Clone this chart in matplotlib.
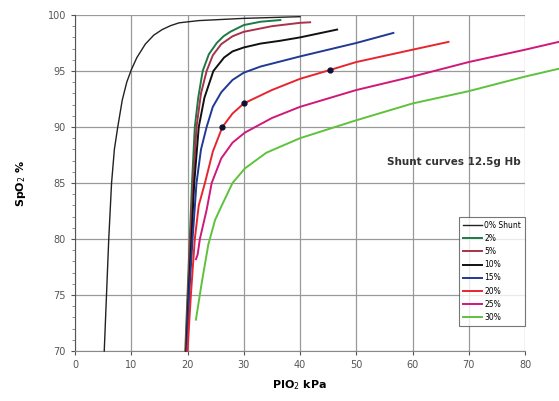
import matplotlib.pyplot as plt
from matplotlib.ticker import MultipleLocator

# Datos (PIO2 en kPa, SpO2 en %)
x_0 = [5.2, 5.6, 6.0, 6.5, 7.0, 7.6, 8.4, 9.2, 10.0, 11.0, 12.5, 14.0, 15.5, 17.0, 18.5, 22, 26, 30, 40]
y_0 = [70, 75, 80, 85, 88, 90, 92.4, 94.0, 95.1, 96.2, 97.4, 98.2, 98.7, 99.05, 99.3, 99.5, 99.6, 99.7, 99.85]

x_2 = [19.6, 20.0, 20.4, 20.8, 21.3, 21.9, 22.7, 23.8, 25.2, 26.4, 27.6, 30.0, 33.0, 36.5]
y_2 = [70, 75, 80, 85, 90, 92.6, 95, 96.5, 97.5, 98.1, 98.5, 99.1, 99.4, 99.55]

x_5 = [19.7, 20.1, 20.5, 21.0, 21.6, 22.4, 23.4, 24.5, 26.0, 28.0, 30.0, 35.0, 40.0, 41.8]
y_5 = [70, 75, 80, 85, 90, 93, 95, 96.4, 97.4, 98.1, 98.5, 99.0, 99.3, 99.35]

x_10 = [19.8, 20.2, 20.7, 21.2, 22.0, 23.0, 24.6, 26.5, 28.0, 30.0, 33.0, 36.5, 40.0, 46.6]
y_10 = [70, 75, 80, 85, 90, 92.6, 95, 96.2, 96.75, 97.1, 97.45, 97.7, 98.0, 98.7]

x_15 = [19.9, 20.3, 20.9, 21.6, 22.4, 23.4, 24.5, 26.0, 28.0, 30.0, 33.0, 36.5, 40.0, 50.0, 56.6]
y_15 = [70, 75, 80, 85, 88, 90, 91.8, 93.1, 94.2, 94.85, 95.4, 95.85, 96.3, 97.5, 98.4]

x_20 = [20.0, 20.6, 21.3, 22.0, 23.1, 24.5, 26.2, 28.0, 30.0, 35.0, 40.0, 45.4, 50.0, 60.0, 66.4]
y_20 = [70, 75, 80, 83, 85, 87.8, 90, 91.2, 92.1, 93.3, 94.3, 95.1, 95.8, 96.9, 97.6]

x_25 = [21.5, 21.8, 22.2, 23.4, 24.3, 26.0, 28.0, 30.2, 35.0, 40.0, 50.0, 60.0, 70.0, 80.0, 86.0]
y_25 = [78.2, 78.6, 80, 82.6, 85, 87.2, 88.6, 89.5, 90.8, 91.8, 93.3, 94.5, 95.8, 96.9, 97.6]

x_30 = [21.5, 22.5, 23.7, 24.9, 26.1, 28.0, 30.2, 34.0, 40.0, 50.0, 60.0, 70.0, 80.0, 86.0]
y_30 = [72.8, 76, 79.5, 81.7, 83, 85, 86.3, 87.7, 89.0, 90.6, 92.1, 93.2, 94.5, 95.2]

etiquetas = ['0% Shunt', '2%', '5%', '10%', '15%', '20%', '25%', '30%']
colores = ['#222222', '#1d7a45', '#a8324a', '#111111', '#1f3a94', '#e8252e', '#d0187a', '#5ec23c']

# puntos marcados sobre la curva del 20%
puntos_x = [26.2, 30.0, 45.4]
puntos_y = [90.0, 92.1, 95.1]

fig = plt.figure(figsize=(5.59, 4.01), dpi=100)
ax = fig.add_axes([75 / 559, 1 - 351 / 401, 450 / 559, 336 / 401])

curvas = [(x_0, y_0), (x_2, y_2), (x_5, y_5), (x_10, y_10),
          (x_15, y_15), (x_20, y_20), (x_25, y_25), (x_30, y_30)]
for (xs, ys), etiqueta, color in zip(curvas, etiquetas, colores):
    ancho = 1.0 if etiqueta == '0% Shunt' else 1.4
    ax.plot(xs, ys, color=color, lw=ancho, label=etiqueta, clip_on=False,
            zorder=3, solid_joinstyle='round')

ax.plot(puntos_x, puntos_y, 'o', color='#111133', ms=3.5, zorder=4)

ax.set_xlim(0, 80)
ax.set_ylim(70, 100)
ax.xaxis.set_major_locator(MultipleLocator(10))
ax.yaxis.set_major_locator(MultipleLocator(5))
ax.yaxis.set_minor_locator(MultipleLocator(1))
ax.grid(True, which='major', color='#999999', lw=0.9)
ax.set_axisbelow(True)

for lado in ['top', 'right']:
    ax.spines[lado].set_visible(False)
ax.spines['left'].set_color('#555555')
ax.spines['bottom'].set_color('#888888')

ax.tick_params(axis='both', which='major', labelsize=7, colors='#555555', length=3)
ax.tick_params(axis='y', which='minor', length=2, color='#777777')

ax.set_xlabel('PIO$_2$ kPa', fontsize=8, fontweight='bold', labelpad=6)
ax.set_ylabel('SpO$_2$ %', fontsize=8, fontweight='bold', labelpad=14)

ax.text(55.5, 86.9, 'Shunt curves 12.5g Hb', fontsize=7.5, fontweight='bold',
        color='#333333', va='center', ha='left', clip_on=False)

leg = ax.legend(loc='upper left', bbox_to_anchor=(455 / 559, 1 - 213 / 401),
                bbox_transform=fig.transFigure, fontsize=5.5, frameon=True,
                fancybox=False, edgecolor='#555555', handlelength=2.5,
                handletextpad=0.3, labelspacing=0.55, borderpad=0.5)
leg.get_frame().set_linewidth(0.8)

fig.savefig('out.png', dpi=100)
